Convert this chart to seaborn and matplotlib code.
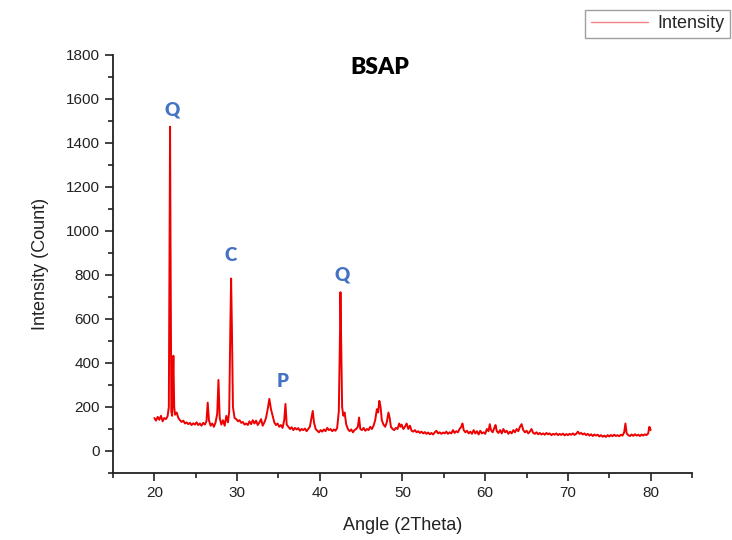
import numpy as np
import pandas as pd
import matplotlib
matplotlib.use("Agg")
import matplotlib.pyplot as plt
from matplotlib.ticker import MultipleLocator
from matplotlib.lines import Line2D
import seaborn as sns

# ---- data ----
angle = [
    20.0, 20.2, 20.4, 20.6, 20.8, 21.0, 21.2, 21.4, 21.6, 21.75, 21.85, 21.9, 21.95,
    22.05, 22.15, 22.3, 22.4, 22.5, 22.7, 22.9, 23.1, 23.3, 23.5, 23.7, 23.9, 24.1,
    24.3, 24.5, 24.7, 24.9, 25.1, 25.3, 25.5, 25.7, 25.9, 26.1, 26.3, 26.45, 26.6,
    26.8, 27.0, 27.2, 27.4, 27.6, 27.75, 27.9, 28.1, 28.3, 28.5, 28.7, 28.9, 29.05,
    29.2, 29.28, 29.38, 29.5, 29.7, 29.9, 30.1, 30.3, 30.5, 30.7, 30.9, 31.1, 31.3,
    31.5, 31.7, 31.9, 32.1, 32.3, 32.5, 32.7, 32.9, 33.1, 33.3, 33.5, 33.75, 33.9,
    34.1, 34.3, 34.5, 34.7, 34.9, 35.1, 35.3, 35.5, 35.7, 35.85, 36.0, 36.2, 36.4,
    36.6, 36.8, 37.0, 37.2, 37.4, 37.6, 37.8, 38.0, 38.2, 38.4, 38.6, 38.8, 39.0,
    39.15, 39.3, 39.5, 39.7, 39.9, 40.1, 40.3, 40.5, 40.7, 40.9, 41.1, 41.3, 41.5,
    41.7, 41.9, 42.1, 42.3, 42.45, 42.5, 42.58, 42.7, 42.85, 43.0, 43.2, 43.4, 43.6,
    43.8, 44.0, 44.2, 44.4, 44.6, 44.75, 44.9, 45.1, 45.3, 45.5, 45.7, 45.9, 46.1,
    46.3, 46.5, 46.7, 46.9, 47.05, 47.2, 47.35, 47.5, 47.7, 47.9, 48.1, 48.3, 48.45,
    48.6, 48.8, 49.0, 49.2, 49.4, 49.6, 49.75, 49.9, 50.1, 50.3, 50.5, 50.7, 50.9,
    51.1, 51.3, 51.5, 51.7, 51.9, 52.1, 52.3, 52.5, 52.7, 52.9, 53.1, 53.3, 53.5,
    53.7, 53.9, 54.1, 54.3, 54.5, 54.7, 54.9, 55.1, 55.3, 55.5, 55.7, 55.9, 56.1,
    56.3, 56.5, 56.7, 56.9, 57.1, 57.25, 57.4, 57.6, 57.8, 58.0, 58.2, 58.4, 58.6,
    58.8, 59.0, 59.2, 59.4, 59.6, 59.8, 60.0, 60.2, 60.4, 60.55, 60.7, 60.9, 61.1,
    61.25, 61.4, 61.6, 61.8, 62.0, 62.2, 62.4, 62.6, 62.8, 63.0, 63.2, 63.4, 63.6,
    63.8, 64.0, 64.2, 64.4, 64.6, 64.8, 65.0, 65.2, 65.4, 65.6, 65.8, 66.0, 66.2,
    66.4, 66.6, 66.8, 67.0, 67.2, 67.4, 67.6, 67.8, 68.0, 68.2, 68.4, 68.6, 68.8,
    69.0, 69.2, 69.4, 69.6, 69.8, 70.0, 70.2, 70.4, 70.6, 70.8, 71.0, 71.2, 71.4,
    71.6, 71.8, 72.0, 72.2, 72.4, 72.6, 72.8, 73.0, 73.2, 73.4, 73.6, 73.8, 74.0,
    74.2, 74.4, 74.6, 74.8, 75.0, 75.2, 75.4, 75.6, 75.8, 76.0, 76.2, 76.4, 76.6,
    76.8, 76.95, 77.1, 77.3, 77.5, 77.7, 77.9, 78.1, 78.3, 78.5, 78.7, 78.9, 79.1,
    79.3, 79.5, 79.7, 79.85, 80.0,
]
intensity = [
    150, 138, 155, 142, 160, 135, 150, 145, 158, 200, 1050, 1474, 1000,
    180, 160, 433, 200, 165, 175, 150, 140, 132, 138, 125, 130, 122,
    128, 118, 126, 120, 130, 118, 125, 115, 128, 120, 135, 220, 140,
    115, 125, 110, 130, 170, 323, 150, 120, 140, 115, 160, 130, 180,
    600, 784, 550, 200, 150, 145, 135, 140, 128, 132, 120, 125, 118,
    135, 122, 140, 125, 138, 118, 130, 145, 115, 130, 150, 200, 237,
    190, 160, 130, 118, 125, 110, 118, 105, 140, 214, 120, 110, 100,
    108, 95, 105, 98, 104, 92, 100, 95, 102, 90, 100, 110, 150,
    182, 130, 100, 92, 85, 95, 88, 98, 90, 105, 95, 100, 90,
    98, 92, 105, 180, 550, 722, 500, 200, 160, 175, 120, 100, 90,
    98, 85, 95, 100, 110, 152, 100, 95, 105, 92, 100, 95, 110,
    100, 115, 140, 190, 175, 228, 200, 140, 120, 110, 130, 175, 150,
    110, 100, 95, 105, 100, 125, 110, 120, 100, 110, 125, 100, 115,
    92, 88, 95, 85, 90, 82, 88, 80, 86, 78, 84, 76, 82,
    75, 85, 92, 80, 85, 78, 84, 80, 88, 78, 85, 80, 95,
    82, 90, 85, 100, 110, 125, 95, 85, 92, 80, 88, 78, 95,
    80, 90, 75, 92, 80, 85, 78, 100, 90, 122, 95, 85, 105,
    118, 90, 82, 95, 80, 100, 85, 92, 78, 88, 80, 95, 85,
    100, 90, 110, 122, 95, 85, 92, 80, 88, 100, 82, 78, 85,
    76, 82, 75, 80, 74, 82, 76, 80, 72, 78, 74, 80, 72,
    78, 73, 79, 71, 77, 72, 78, 74, 80, 73, 78, 88, 78,
    82, 75, 80, 72, 78, 70, 76, 68, 75, 70, 74, 66, 72,
    65, 70, 64, 72, 66, 73, 67, 74, 68, 72, 67, 74, 70,
    85, 125, 80, 72, 68, 75, 69, 76, 70, 74, 68, 75, 70,
    76, 72, 80, 110, 95,
]
peak_labels = ["Q", "C", "P", "Q"]
peak_label_x = [22.1, 29.2, 35.5, 42.7]
peak_label_y = [1550, 889, 314, 802]
title_text = "BSAP"
x_ticks = [20, 30, 40, 50, 60, 70, 80]
y_ticks = [0, 200, 400, 600, 800, 1000, 1200, 1400, 1600, 1800]

df = pd.DataFrame({"Angle": angle, "Intensity": intensity})

sns.set_style("white")
plt.rcParams["font.family"] = ["Liberation Sans", "DejaVu Sans"]

fig = plt.figure(figsize=(7.32, 5.40), dpi=100)
ax = fig.add_axes([113 / 732, 1 - 473 / 540, (692 - 113) / 732, (473 - 55) / 540])

sns.lineplot(data=df, x="Angle", y="Intensity", ax=ax, color="#ee0000",
             linewidth=1.4, legend=False)

ax.set_xlim(15, 85)
ax.set_ylim(-100, 1800)
ax.set_xticks(x_ticks)
ax.set_yticks(y_ticks)
ax.xaxis.set_minor_locator(MultipleLocator(5))
ax.yaxis.set_minor_locator(MultipleLocator(100))
ax.tick_params(axis="both", which="major", direction="out", length=6, width=1.2,
               color="#222222", labelsize=11, labelcolor="#222222", bottom=True, left=True)
ax.tick_params(axis="both", which="minor", direction="out", length=3.5, width=1.2,
               color="#222222", bottom=True, left=True)
for s in ["top", "right"]:
    ax.spines[s].set_visible(False)
for s in ["left", "bottom"]:
    ax.spines[s].set_color("#222222")
    ax.spines[s].set_linewidth(1.3)

ax.set_xlabel("Angle (2Theta)", fontsize=13, color="#222222", labelpad=12)
ax.set_ylabel("Intensity (Count)", fontsize=13, color="#222222", labelpad=12)

ax.text(47.2, 1745, title_text, ha="center", va="center", fontsize=16.5,
        fontweight="heavy", family=["Lato", "DejaVu Sans"], color="black")
for lab, lx, ly in zip(peak_labels, peak_label_x, peak_label_y):
    ax.text(lx, ly, lab, ha="center", va="center", fontsize=13.5, fontweight="heavy",
            family=["Lato", "DejaVu Sans"], color="#4472C4")

h = [Line2D([0], [0], color="#f08080", linewidth=1.0)]
leg = fig.legend(h, ["Intensity"], loc="upper right", bbox_to_anchor=(730 / 732, 1 - 10 / 540),
                 frameon=True, fancybox=False, fontsize=13, handlelength=3.2,
                 borderpad=0.3, handletextpad=0.5, borderaxespad=0)
leg.get_frame().set_edgecolor("#888888")
leg.get_frame().set_linewidth(1.0)

fig.savefig("out.png", dpi=100)
